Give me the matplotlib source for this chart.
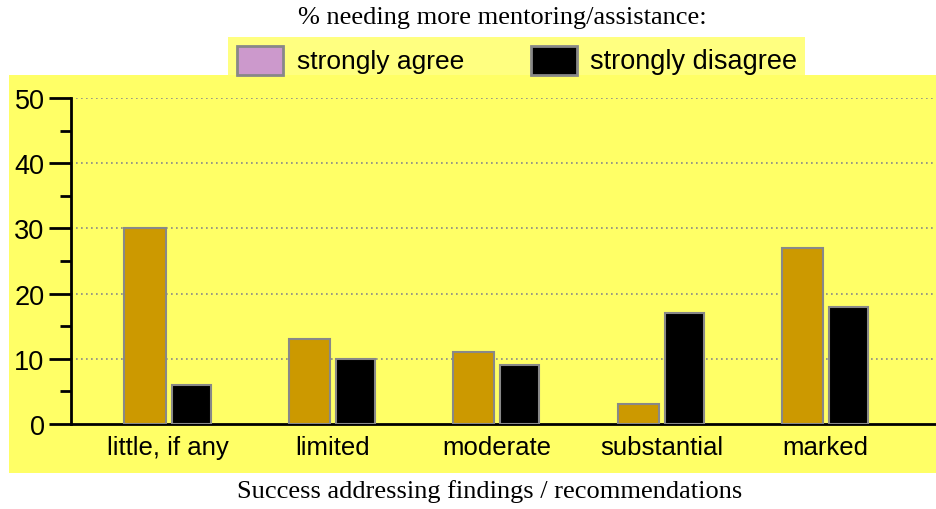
import numpy as np
import matplotlib
matplotlib.use('Agg')
import matplotlib.pyplot as plt
from matplotlib.patches import Rectangle

# data
categories = ['little, if any', 'limited', 'moderate', 'substantial', 'marked']
agree = [30, 13, 11, 3, 27]
disagree = [6, 10, 9, 17, 18]
yticks = [0, 10, 20, 30, 40, 50]

W, H = 936, 510
gold = '#cc9900'
pink = '#cc99cc'
edge = '#888888'
yellow = '#ffff66'
pale = '#ffff80'
pixfont = ['Liberation Sans Narrow', 'Liberation Sans', 'DejaVu Sans']
serif = ['Liberation Serif', 'DejaVu Serif']

fig = plt.figure(figsize=(W / 100, H / 100), dpi=100)
fig.patch.set_facecolor('white')

def px(x0, y0, x1, y1):
    # figure-pixel box (top-left origin) -> figure fraction
    return x0 / W, 1 - y1 / H, (x1 - x0) / W, (y1 - y0) / H

# yellow backgrounds
x, y, w, h = px(9, 76, 936, 474)
fig.patches.append(Rectangle((x, y), w, h, transform=fig.transFigure,
                             facecolor=yellow, edgecolor='none', zorder=0))
x, y, w, h = px(228, 38, 805, 76)
fig.patches.append(Rectangle((x, y), w, h, transform=fig.transFigure,
                             facecolor=pale, edgecolor='none', zorder=0))

# legend swatches
for (x0, x1, c) in [(237, 283, pink), (531, 577, 'black')]:
    x, y, w, h = px(x0, 47, x1, 76)
    fig.patches.append(Rectangle((x, y), w, h, transform=fig.transFigure,
                                 facecolor=c, edgecolor=edge, linewidth=2, zorder=1))
fig.text(297 / W, 1 - 62 / H, 'strongly agree', family=pixfont, fontsize=19,
         va='center', ha='left')
fig.text(590 / W, 1 - 62 / H, 'strongly disagree', family=pixfont, fontsize=19.5,
         va='center', ha='left')

fig.text(502 / W, 1 - 18 / H, '% needing more mentoring/assistance:',
         family=serif, fontsize=19, ha='center', va='center')
fig.text(490 / W, 1 - 492 / H, 'Success addressing findings / recommendations',
         family=serif, fontsize=19, ha='center', va='center')

ax = fig.add_axes([71 / W, 1 - 425 / H, (936 - 71) / W, (425 - 99) / H])
ax.set_facecolor('none')
ax.set_zorder(2)

xpos = np.arange(len(categories))
bw = 0.25
ax.bar(xpos - 0.14, agree, bw, color=gold, edgecolor=edge, linewidth=1.5, zorder=3)
ax.bar(xpos + 0.14, disagree, bw * 0.95, color='black', edgecolor=edge, linewidth=1.5, zorder=3)

ax.set_xlim(-0.59, 4.67)
ax.set_ylim(0, 50)
ax.set_yticks(yticks)
ax.set_yticks(np.arange(5, 50, 10), minor=True)
ax.set_yticklabels([str(t) for t in yticks], family=pixfont, fontsize=19.5)
ax.set_xticks(xpos)
ax.set_xticklabels(categories, family=pixfont, fontsize=18.5)
ax.tick_params(axis='y', which='major', length=16, width=2, pad=3)
ax.tick_params(axis='y', which='minor', length=8, width=2)
ax.tick_params(axis='x', length=0, pad=8)

for yv in yticks[1:]:
    ax.axhline(yv, color='#888888', linestyle=(0, (1, 2)), linewidth=1.2, zorder=1)

for s in ['top', 'right']:
    ax.spines[s].set_visible(False)
for s in ['left', 'bottom']:
    ax.spines[s].set_linewidth(2)

fig.savefig('out.png', dpi=100)
